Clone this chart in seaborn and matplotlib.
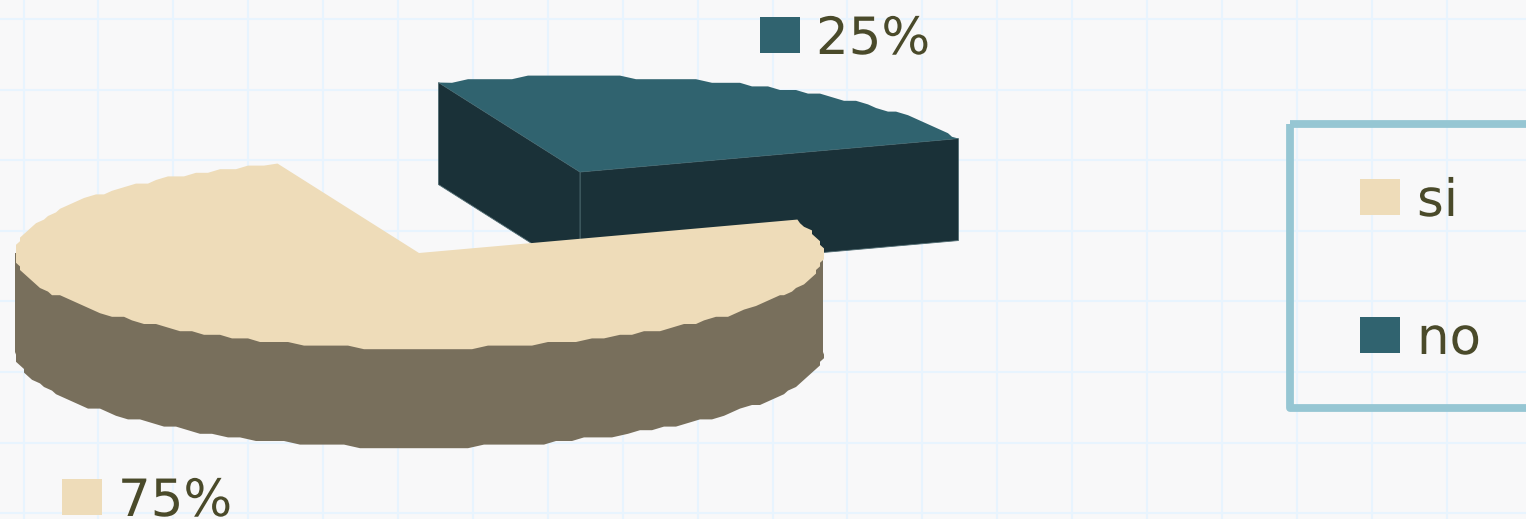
import numpy as np
import matplotlib
matplotlib.use("Agg")
import matplotlib.pyplot as plt
from matplotlib.patches import Rectangle
import matplotlib.patheffects as pe
import seaborn as sns

# Datos del grafico
categorias = ["si", "no"]
porcentajes = [75, 25]
etiquetas = ["75%", "25%"]

# Colores
COLOR_FONDO = "#f8f8f9"
COLOR_TOP = ["#eedcb9", "#30636f"]
COLOR_LADO = ["#786f5c", "#1a3138"]
COLOR_TEXTO = "#4a4a2a"
COLOR_MARCO = "#96c6d3"

W, H = 1526, 519
sns.set_theme(style="whitegrid", rc={
    "axes.facecolor": COLOR_FONDO,
    "figure.facecolor": COLOR_FONDO,
    "grid.color": "#e8f4fe",
    "grid.linewidth": 1.5,
    "axes.edgecolor": "none",
})
plt.rcParams["font.family"] = ["DejaVu Sans"]

# Geometria de la elipse, en pixeles de la figura
A, B = 404, 95.5
ALTO_SI, ALTO_NO = 99, 102
INICIO = 20.5
CENTROS = {"si": (419, 253), "no": (580, 172)}


def borde(cx, cy, t1, t2, dy=0):
    # el borde original es escalonado, se redondea a saltos pequeños
    t = np.radians(np.r_[np.arange(t1, t2, 2.2), t2])
    x = cx + A * np.cos(t)
    y = cy - B * np.sin(t)
    xq = np.round(x / 4) * 4
    yq = np.round(y / 3.6) * 3.6
    # los extremos se dejan exactos para que cierren con las aristas
    xq[[0, -1]] = x[[0, -1]]
    yq[[0, -1]] = y[[0, -1]]
    return xq, yq + dy


fig = plt.figure(figsize=(W / 100, H / 100), dpi=100)
ax = fig.add_axes([0, 0, 1, 1])
ax.set_xlim(0, W)
ax.set_ylim(H, 0)
ax.set_xticks(23.5 + 74.9 * np.arange(20))
ax.set_yticks(19 + 70.6 * np.arange(8))
ax.tick_params(length=0, labelbottom=False, labelleft=False)
ax.set_axisbelow(True)
sns.despine(ax=ax, left=True, bottom=True)

# Angulos a partir de los porcentajes
ang_no = porcentajes[1] / 100 * 360
t_no = (INICIO, INICIO + ang_no)
t_si = (INICIO + ang_no, INICIO + 360)

# Porcion "no" (separada, va detras)
cx, cy = CENTROS["no"]
for t in t_no:
    ex = cx + A * np.cos(np.radians(t))
    ey = cy - B * np.sin(np.radians(t))
    ax.fill([cx, ex, ex, cx], [cy, ey, ey + ALTO_NO, cy + ALTO_NO],
            color=COLOR_LADO[1], ec="#4e6a70", lw=0.6, zorder=2)
x, y = borde(cx, cy, *t_no)
ax.fill(np.r_[cx, x], np.r_[cy, y], fc=COLOR_TOP[1], ec="none", zorder=3)

# Porcion "si", el lateral solo se ve en la mitad de delante
cx, cy = CENTROS["si"]
xb, yb = borde(cx, cy, 180, 360, dy=ALTO_SI)
ax.fill(np.r_[xb[-1], xb[0], xb], np.r_[cy, cy, yb], fc=COLOR_LADO[0], ec="none", zorder=4)
x, y = borde(cx, cy, *t_si)
ax.fill(np.r_[cx, x], np.r_[cy, y], fc=COLOR_TOP[0], ec="none", zorder=5)

# Etiquetas de datos
fs = 37
for i, (sx, sy) in enumerate([(62, 479), (760, 17)]):
    ax.add_patch(Rectangle((sx, sy), 40, 36, fc=COLOR_TOP[i], ec="none", zorder=6))
    ax.text(sx + 56, sy + 37, etiquetas[i], fontsize=fs, color=COLOR_TEXTO,
            va="baseline", ha="left", zorder=6)

# Leyenda, el marco se sale por la derecha
ax.add_patch(Rectangle((1290, 124), 300, 284, fc="none", ec=COLOR_MARCO, lw=5.6,
                       joinstyle="round", zorder=6))
for i, sy in enumerate([179, 317]):
    ax.add_patch(Rectangle((1360, sy), 40, 36, fc=COLOR_TOP[i], ec="none", zorder=6))
    ax.text(1417, sy + 37, categorias[i], fontsize=fs, color=COLOR_TEXTO,
            va="baseline", ha="left", zorder=6)

# DejaVu tiene el ancho correcto, con un trazo del fondo queda mas fino
for txt in ax.texts:
    txt.set_path_effects([pe.Stroke(linewidth=1.4, foreground=COLOR_FONDO), pe.Normal()])

fig.savefig("out.png", dpi=100)
